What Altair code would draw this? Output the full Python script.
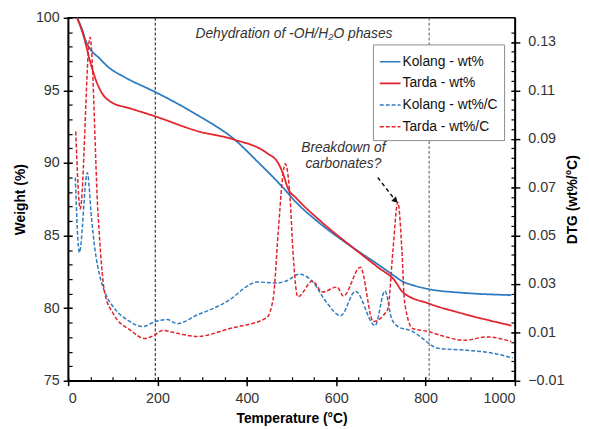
import altair as alt
import pandas as pd

FONT = "Liberation Sans"
BLUE = "#2E7BC0"
RED = "#E2232B"

SERIES = ["Kolang - wt%", "Tarda - wt%", "Kolang - wt%/C", "Tarda - wt%/C"]

# Weight (%) curves
KOLANG_WT_T = [20, 30, 41, 56, 67, 90, 127, 194, 238, 289, 373, 422, 481, 510, 561, 636, 694, 731, 745, 775, 809, 886, 992]
KOLANG_WT = [100, 99.3, 98.3, 97.6, 97.3, 96.6, 95.9, 94.9, 94.2, 93.3, 91.6, 90.15, 88.3, 87.3, 85.9, 84.2, 83.0, 82.2, 81.9, 81.55, 81.3, 81.05, 80.9]

TARDA_WT_T = [20, 34, 50, 61, 74, 96, 140, 196, 289, 373, 444, 470, 481, 492, 510, 561, 636, 694, 731, 749, 809, 886, 992]
TARDA_WT = [100, 98.8, 96.9, 95.8, 94.9, 94.2, 93.75, 93.2, 92.2, 91.6, 90.7, 90.0, 89.25, 88.25, 87.6, 86.1, 84.2, 82.8, 81.9, 81.1, 80.3, 79.6, 78.8]

# DTG (wt%/°C) curves
KOLANG_DTG_T = [16, 25, 43, 52, 60, 71, 86, 104, 134, 167, 196, 222, 244, 289, 326, 362, 400, 422, 466, 488, 517, 547, 576, 610, 643, 687, 709, 724, 738, 771, 793, 813, 824, 891, 950, 995]
KOLANG_DTG = [0.074, 0.043, 0.076, 0.0577, 0.0442, 0.0332, 0.025, 0.0198, 0.0149, 0.0124, 0.0145, 0.0153, 0.0136, 0.0172, 0.020, 0.0235, 0.029, 0.0308, 0.0304, 0.0312, 0.034, 0.031, 0.023, 0.0169, 0.027, 0.0128, 0.0271, 0.0157, 0.0124, 0.0104, 0.0075, 0.0047, 0.0035, 0.0026, 0.0014, -0.0006]

TARDA_DTG_T = [17, 27, 49, 67, 82, 101, 140, 171, 193, 211, 244, 289, 362, 444, 459, 470, 481, 486, 497, 503, 514, 547, 569, 602, 616, 654, 683, 709, 716, 727, 738, 747, 753, 771, 804, 842, 886, 937, 992]
TARDA_DTG = [0.093, 0.061, 0.132, 0.0585, 0.0262, 0.0177, 0.0108, 0.0075, 0.0088, 0.0108, 0.0096, 0.0083, 0.0116, 0.0160, 0.024, 0.051, 0.0756, 0.0797, 0.0646, 0.044, 0.0247, 0.0312, 0.0267, 0.0287, 0.025, 0.0369, 0.0145, 0.0178, 0.020, 0.044, 0.0638, 0.044, 0.0226, 0.0116, 0.0104, 0.0083, 0.0067, 0.0081, 0.0062]

VLINE_T = [195, 808]
VLINE_COLORS = ["#111111", "#555555"]

ANNOT_T = [285, 616, 616]
ANNOT_W = [98.9, 91.0, 89.95]
ANNOT_TEXT = ["Dehydration of -OH/H\u2082O phases", "Breakdown of", "carbonates?"]
ANNOT_ALIGN = ["left", "center", "center"]

ARROW_T = [693, 733]
ARROW_W = [89.0, 87.4]

X_TICKS = [0, 200, 400, 600, 800, 1000]
Y_TICKS = [75, 80, 85, 90, 95, 100]
R_TICKS = [-0.01, 0.01, 0.03, 0.05, 0.07, 0.09, 0.11, 0.13]
X_MINOR = list(range(50, 1000, 50))
Y_MINOR = list(range(76, 100))
R_MINOR = [round(-0.01 + 0.004 * i, 3) for i in range(1, 37)]

wt_df = pd.concat([
    pd.DataFrame({"T": KOLANG_WT_T, "v": KOLANG_WT, "series": SERIES[0]}),
    pd.DataFrame({"T": TARDA_WT_T, "v": TARDA_WT, "series": SERIES[1]}),
])
dtg_df = pd.concat([
    pd.DataFrame({"T": KOLANG_DTG_T, "v": KOLANG_DTG, "series": SERIES[2]}),
    pd.DataFrame({"T": TARDA_DTG_T, "v": TARDA_DTG, "series": SERIES[3]}),
])

xs = alt.Scale(domain=[0, 1000], nice=False, zero=False)
yl = alt.Scale(domain=[75, 100], nice=False, zero=False)
yr = alt.Scale(domain=[-0.01, 0.14], nice=False, zero=False)

leg = alt.Legend(title=None, orient="none", legendX=309, legendY=27,
                 symbolType="stroke", symbolSize=441, symbolStrokeWidth=1.6,
                 labelFontSize=14, labelFont=FONT, labelColor="#111111",
                 strokeColor="#8c8c8c", fillColor="white", padding=6,
                 rowPadding=3, labelOffset=1, labelLimit=200)

color = alt.Color("series:N", scale=alt.Scale(domain=SERIES, range=[BLUE, RED, BLUE, RED]), legend=leg)
dash = alt.StrokeDash("series:N", scale=alt.Scale(domain=SERIES, range=[[1, 0], [1, 0], [4, 2], [4, 2]]), legend=leg)

axis_common = dict(grid=False, domainColor="black", tickColor="black", tickWidth=1.5,
                   domainWidth=1.5, labelFont=FONT, labelFontSize=14.5, labelColor="#333333",
                   titleFont=FONT, titleFontSize=14, titleFontWeight="bold", titleColor="black")

wt_lines = alt.Chart(wt_df).mark_line(strokeWidth=1.8, interpolate="monotone").encode(
    x=alt.X("T:Q", scale=xs, axis=alt.Axis(orient="bottom", values=X_TICKS, format="d", tickSize=5,
                                           labelPadding=6.5, title="Temperature (°C)", titlePadding=6,
                                           **axis_common)),
    y=alt.Y("v:Q", scale=yl, axis=alt.Axis(orient="left", values=Y_TICKS, tickSize=5, labelPadding=4,
                                           title="Weight (%)", titlePadding=8, **axis_common)),
    color=color, strokeDash=dash, order=alt.Order("T:Q"),
)

dtg_lines = alt.Chart(dtg_df).mark_line(strokeWidth=1.5, interpolate="monotone").encode(
    x=alt.X("T:Q", scale=xs, axis=None),
    y=alt.Y("v:Q", scale=yr, axis=alt.Axis(orient="right", values=R_TICKS, format=".2f", tickSize=5,
                                           labelPadding=8, title="DTG (wt%/°C)", titleAngle=-90,
                                           titleBaseline="top", titlePadding=2, **axis_common)),
    color=color, strokeDash=dash, order=alt.Order("T:Q"),
)

minor_common = dict(grid=False, labels=False, domain=False, ticks=True, tickSize=4, tickColor="black",
                    tickWidth=1.2, title=None, offset=-4)

minor_left = alt.Chart(wt_df).mark_point(opacity=0).encode(
    x=alt.X("T:Q", scale=xs, axis=alt.Axis(orient="bottom", values=X_MINOR, **minor_common)),
    y=alt.Y("v:Q", scale=yl, axis=alt.Axis(orient="left", values=Y_MINOR, **minor_common)),
)
minor_right = alt.Chart(dtg_df).mark_point(opacity=0).encode(
    x=alt.X("T:Q", scale=xs, axis=None),
    y=alt.Y("v:Q", scale=yr, axis=alt.Axis(orient="right", values=R_MINOR, **minor_common)),
)
major_in_left = alt.Chart(wt_df).mark_point(opacity=0).encode(
    x=alt.X("T:Q", scale=xs, axis=alt.Axis(orient="bottom", values=X_TICKS, **minor_common)),
    y=alt.Y("v:Q", scale=yl, axis=alt.Axis(orient="left", values=Y_TICKS, **minor_common)),
)
major_in_right = alt.Chart(dtg_df).mark_point(opacity=0).encode(
    x=alt.X("T:Q", scale=xs, axis=None),
    y=alt.Y("v:Q", scale=yr, axis=alt.Axis(orient="right", values=R_TICKS, **minor_common)),
)

vrules = [
    alt.Chart(pd.DataFrame({"T": [VLINE_T[i]]})).mark_rule(strokeDash=[3, 2], strokeWidth=1, color=VLINE_COLORS[i]).encode(
        x=alt.X("T:Q", scale=xs, axis=None))
    for i in range(len(VLINE_T))
]

annot_df = pd.DataFrame({"T": ANNOT_T, "W": ANNOT_W, "text": ANNOT_TEXT, "align": ANNOT_ALIGN})
annots = []
for al in ["left", "center"]:
    annots.append(
        alt.Chart(annot_df).transform_filter(alt.datum.align == al).mark_text(
            font=FONT, fontSize=14, fontStyle="italic", color="#333333", align=al, baseline="middle"
        ).encode(
            x=alt.X("T:Q", scale=xs, axis=None),
            y=alt.Y("W:Q", scale=yl, axis=None),
            text="text:N",
        )
    )

arrow_df = pd.DataFrame({"T": ARROW_T, "W": ARROW_W})
arrow_line = alt.Chart(arrow_df).mark_line(color="#111111", strokeWidth=1.5, strokeDash=[4, 3]).encode(
    x=alt.X("T:Q", scale=xs, axis=None),
    y=alt.Y("W:Q", scale=yl, axis=None),
)
arrow_head = alt.Chart(arrow_df.iloc[[1]]).mark_point(shape="triangle-up", angle=136, size=45, filled=True,
                                                      color="#111111", opacity=1).encode(
    x=alt.X("T:Q", scale=xs, axis=None),
    y=alt.Y("W:Q", scale=yl, axis=None),
)

chart = alt.layer(
    *vrules, wt_lines, dtg_lines, minor_left, minor_right, major_in_left, major_in_right,
    *annots, arrow_line, arrow_head,
).resolve_scale(x="independent", y="independent").properties(
    width=453, height=368,
    autosize=alt.AutoSizeParams(type="none"),
    padding={"left": 61, "top": 7, "right": 67, "bottom": 46},
    background="white",
).configure_view(stroke="black", strokeWidth=1.5)

chart.save("out.html", embed_options={"renderer": "svg", "actions": False})
